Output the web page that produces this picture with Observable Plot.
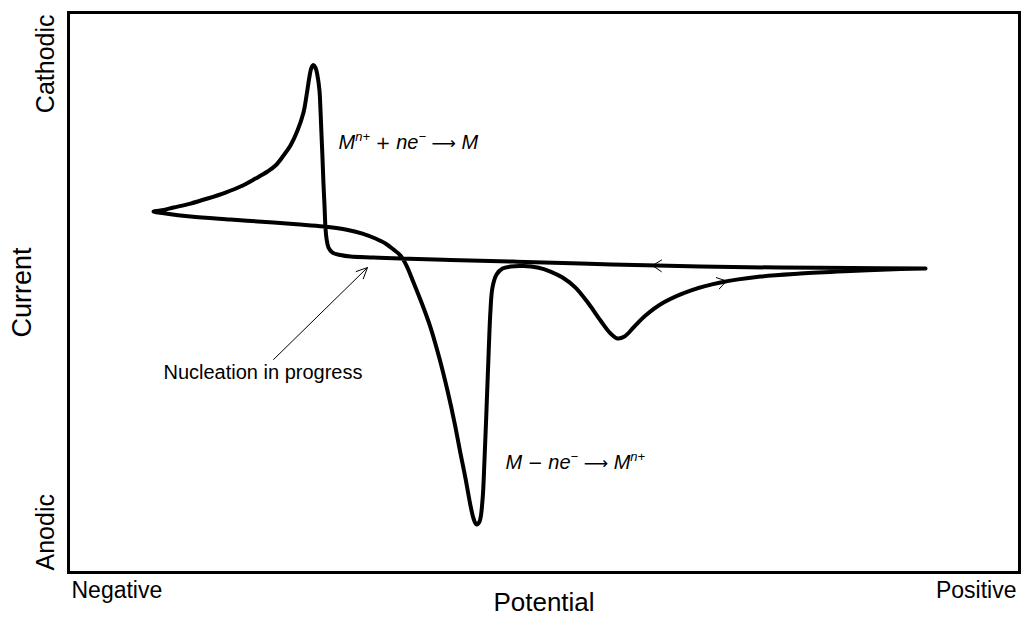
<!DOCTYPE html>
<html><head><meta charset="utf-8">
<script src="https://cdn.jsdelivr.net/npm/d3@7"></script>
<script src="https://cdn.jsdelivr.net/npm/@observablehq/plot@0.6"></script>
<style>html,body{margin:0;padding:0;background:#fff}svg{display:block}</style>
</head><body><div id="chart"></div>
<script>
// Cyclic voltammogram (arbitrary units), traced in scan order
const potential = [90.12,82.23,74.87,66.46,61.93,53.84,46.79,40.17,34.91,32.07,29.65,28.60,27.76,27.34,27.13,27.02,26.92,26.81,26.71,26.60,26.50,26.39,26.18,25.97,25.76,25.55,25.34,25.03,24.71,24.08,23.34,22.61,21.77,20.93,19.66,18.09,16.51,14.62,12.83,11.04,9.67,8.94,10.20,12.83,17.03,21.56,24.40,26.81,29.13,30.91,32.28,33.33,34.17,34.91,35.54,36.28,37.12,38.07,39.01,39.85,40.59,41.22,41.75,42.27,42.59,42.90,43.22,43.53,43.74,43.95,44.16,44.37,44.58,45.01,45.64,46.48,47.85,49.32,50.68,51.95,53.31,54.68,55.94,57.00,57.73,58.46,59.41,60.67,62.57,65.40,68.56,72.77,76.97,82.23,87.49,90.12];
const current = [-0.29,-0.20,-0.10,0.10,0.29,0.69,1.08,1.38,1.67,1.87,2.06,2.36,2.85,3.83,5.60,7.76,12.08,16.40,21.31,26.22,30.74,34.67,37.62,39.19,39.68,39.19,37.42,33.69,30.35,26.81,23.87,21.90,19.94,18.76,17.38,15.81,14.63,13.46,12.47,11.69,11.10,10.90,10.51,9.92,9.33,8.74,8.35,7.96,7.37,6.58,5.60,4.62,3.44,2.26,0.29,-3.04,-6.97,-11.88,-17.97,-24.26,-30.55,-36.63,-41.55,-46.85,-49.40,-50.58,-49.99,-45.86,-38.01,-28.19,-17.78,-8.55,-4.03,-1.47,-0.29,0.10,0.20,-0.10,-0.88,-2.06,-4.03,-7.17,-10.51,-13.06,-14.04,-13.65,-11.88,-9.53,-6.97,-4.62,-3.04,-1.87,-1.28,-0.79,-0.39,-0.29];

const xDomain = [0, 100];
const yDomain = [-60, 50];
const xTickValues = [0, 100];
const xTickLabels = ["Negative", "Positive"];
const yTickValues = [-60, 50];
const yTickLabels = ["Anodic", "Cathodic"];
const xTitle = "Potential";
const yTitle = "Current";

// annotations (data coordinates)
const reactionLabels = ["M^{n+} + ne^{−} ⟶ M", "M − ne^{−} ⟶ M^{n+}"];
const reactionX = [28.39, 45.95];
const reactionY = [24.46, -38.40];
const noteText = ["Nucleation in progress"];
const noteX = [20.45];
const noteY = [-20.72];
const noteArrow = {x1: 21.56, y1: -18.17, x2: 31.44, y2: -0.10};
const scanArrowX1 = [65.41, 65.62];
const scanArrowY1 = [0.10, -4.46];
const scanArrowX2 = [61.41, 69.19];
const scanArrowY2 = [0.29, -2.75];

const cv = potential.map((x, i) => ({x, y: current[i]}));
const xTicks = xTickValues.map((v, i) => ({v, label: xTickLabels[i]}));
const yTicks = yTickValues.map((v, i) => ({v, label: yTickLabels[i]}));
const reactions = reactionLabels.map((t, i) => ({t, x: reactionX[i], y: reactionY[i]}));
const notes = noteText.map((t, i) => ({t, x: noteX[i], y: noteY[i]}));
const scanArrows = scanArrowX1.map((x1, i) => ({x1, y1: scanArrowY1[i], x2: scanArrowX2[i], y2: scanArrowY2[i]}));

const font = "'Liberation Sans', Arial, Helvetica, sans-serif";

const chart = Plot.plot({
  width: 1024,
  height: 618,
  marginLeft: 68,
  marginTop: 12,
  marginRight: 5,
  marginBottom: 46,
  x: {domain: xDomain, axis: null},
  y: {domain: yDomain, axis: null},
  style: {fontFamily: font, background: "#fff", color: "#000", overflow: "visible"},
  marks: [
    Plot.frame({stroke: "#000", strokeWidth: 3}),
    Plot.line(cv, {x: "x", y: "y", curve: "catmull-rom", stroke: "#000", strokeWidth: 4, strokeLinejoin: "round", strokeLinecap: "round"}),
    Plot.arrow([noteArrow], {x1: "x1", y1: "y1", x2: "x2", y2: "y2", stroke: "#000", strokeWidth: 1, headLength: 18, headAngle: 50}),
    Plot.arrow(scanArrows, {x1: "x1", y1: "y1", x2: "x2", y2: "y2", stroke: "#000", strokeWidth: 1, headLength: 16, headAngle: 66}),
    Plot.text(notes, {x: "x", y: "y", text: "t", fontSize: 20, fill: "#000", textAnchor: "middle"}),
    Plot.text(reactions, {x: "x", y: "y", text: "t", fontSize: 20, fill: "#000", textAnchor: "start", fontStyle: "italic"}),
    Plot.text(xTicks.slice(0, 1), {x: "v", frameAnchor: "bottom", text: "label", textAnchor: "start", lineAnchor: "middle", dx: 3, dy: 18, fontSize: 23, fill: "#000"}),
    Plot.text(xTicks.slice(1), {x: "v", frameAnchor: "bottom", text: "label", textAnchor: "end", lineAnchor: "middle", dx: -3, dy: 18, fontSize: 23, fill: "#000"}),
    Plot.text(yTicks.slice(1), {y: "v", frameAnchor: "left", text: "label", rotate: -90, textAnchor: "end", lineAnchor: "middle", dx: -23, dy: 2, fontSize: 25, fill: "#000"}),
    Plot.text(yTicks.slice(0, 1), {y: "v", frameAnchor: "left", text: "label", rotate: -90, textAnchor: "start", lineAnchor: "middle", dx: -23, dy: -2, fontSize: 25, fill: "#000"}),
    Plot.text([xTitle], {frameAnchor: "bottom", text: d => d, textAnchor: "middle", lineAnchor: "middle", dy: 30, fontSize: 26, fill: "#000"}),
    Plot.text([yTitle], {frameAnchor: "left", text: d => d, rotate: -90, textAnchor: "middle", lineAnchor: "middle", dx: -46, fontSize: 27, fill: "#000"})
  ]
});

// typeset the simple math: ^{...} as superscripts, operators upright
const NS = "http://www.w3.org/2000/svg";
chart.querySelectorAll("text").forEach(t => {
  const s = t.textContent;
  if (!s.includes("^{")) return;
  t.textContent = "";
  const parts = [];
  const re = /\^\{([^}]*)\}/g;
  let last = 0, m;
  while ((m = re.exec(s))) {
    if (m.index > last) parts.push({s: s.slice(last, m.index), sup: false});
    parts.push({s: m[1], sup: true});
    last = re.lastIndex;
  }
  if (last < s.length) parts.push({s: s.slice(last), sup: false});
  let shifted = false;
  parts.forEach(p => {
    const runs = p.sup ? [{s: p.s, op: false}] : p.s.split(/([+−⟶])/).filter(x => x.length).map(x => ({s: x, op: /[+−⟶]/.test(x)}));
    runs.forEach((r, k) => {
      const ts = document.createElementNS(NS, "tspan");
      ts.textContent = r.s;
      if (p.sup) {
        ts.setAttribute("font-size", "13");
        if (!shifted) { ts.setAttribute("dy", "-8"); shifted = true; }
      } else if (shifted && k === 0) {
        ts.setAttribute("dy", "8"); shifted = false;
      }
      if (r.op) {
        ts.setAttribute("font-style", "normal");
        ts.setAttribute("font-family", "'DejaVu Sans', sans-serif");
        ts.setAttribute("font-size", r.s === "⟶" ? "17" : "18");
      }
      t.appendChild(ts);
    });
  });
});

document.getElementById("chart").appendChild(chart);
</script>
</body></html>
